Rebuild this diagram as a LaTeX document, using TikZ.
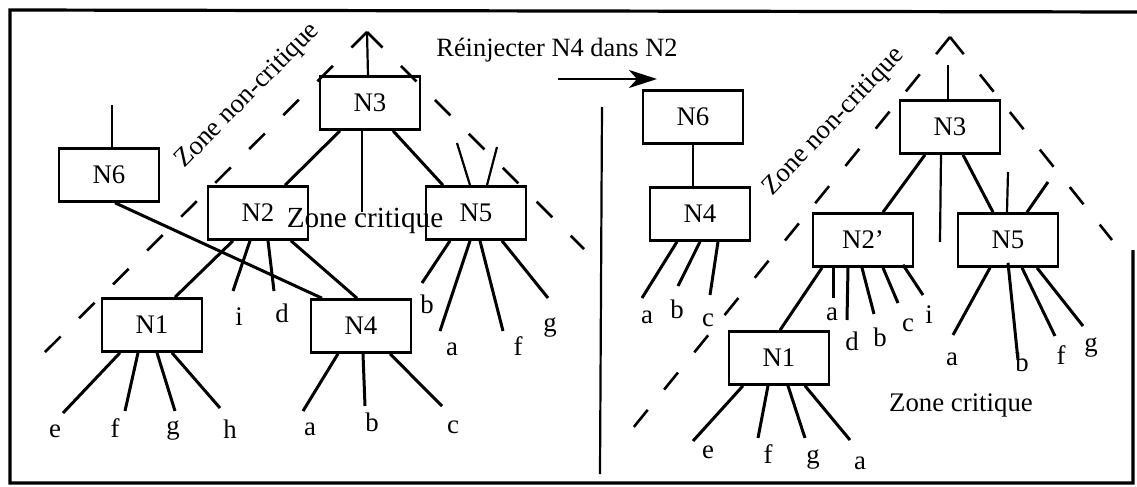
\documentclass[tikz,border=0pt]{standalone}
\usepackage{fontspec}
\setmainfont{Liberation Serif}
\usetikzlibrary{calc,arrows.meta}
\begin{document}
\begin{tikzpicture}[x=0.5pt,y=-0.5pt,
  txt/.style={font=\fontsize{13.4}{15}\selectfont,inner sep=0pt},
  box/.style={txt,draw,line width=1.3pt,minimum width=50pt,minimum height=26.5pt},
  edge/.style={line width=1.5pt},
  thin/.style={line width=1.1pt},
  lbl/.style={txt,anchor=base},
  zone/.style={line width=1.3pt,dash pattern=on 11pt off 13pt},
  border/.style={line width=1.6pt}
]
\useasboundingbox (0,0) rectangle (1137,487);
% frame
\coordinate (c1) at (10,10);
\coordinate (c2) at (1137,12);
\coordinate (c3) at (1133,250);
\coordinate (c4) at (1133,483);
\coordinate (c5) at (10,483);
\draw[border] (c2) -- (c1) -- (c5) -- (c4) -- (c3);

% title and arrow
\node[lbl,font=\fontsize{13.2}{15}\selectfont] (title) at (557,56) {Réinjecter N4 dans N2};
\coordinate (a1) at (558,79);
\coordinate (a2) at (657,79);
\draw[line width=1.4pt,-{Stealth[length=14pt,width=9pt,inset=4pt]}] (a1) -- (a2);
% separator
\coordinate (s1) at (602,107);
\coordinate (s2) at (600,474);
\draw[thin] (s1) -- (s2);

% ================= left tree =================
\node[box] (N3) at (370,103) {N3};
\node[box] (N2) at (258,213) {N2};
\node[box] (N5) at (476,213) {N5};
\node[box] (N6) at (109,175) {N6};
\node[box] (N1) at (152,325) {N1};
\node[box] (N4) at (361,326) {N4};

\coordinate (apexL) at (367,32);
\coordinate (zLl) at (37,360);
\coordinate (zLr) at (584,249);
\draw[zone] (apexL) -- (zLl);
\draw[zone] (apexL) -- (zLr);
\node[txt,rotate=45.4] (zncL) at (248,96) {Zone non-critique};
\node[lbl,font=\fontsize{14.6}{16}\selectfont] (zcL) at (365,227) {Zone critique};

\draw[thin] ($(N3.north)+(-2,0)$) -- (apexL);
\coordinate (v3) at (362,212);
\draw[thin] ($(N3.south)+(-8,0)$) -- (v3);
\draw[edge] ($(N3.south)+(-30,0)$) -- ($(N2.north)+(27,0)$);
\draw[edge] ($(N3.south)+(23,0)$) -- ($(N5.north)+(-33,0)$);

\coordinate (t5a) at (457,143);
\coordinate (t5b) at (497,147);
\draw[thin] ($(N5.north)+(-6,0)$) -- (t5a);
\draw[thin] ($(N5.north)+(11,0)$) -- (t5b);

\coordinate (t6) at (112,105);
\draw[thin] ($(N6.north)+(3,0)$) -- (t6);
\draw[edge] ($(N6.south)+(6,0)$) -- ($(N4.north)+(-39,0)$);

\draw[edge] ($(N2.south)+(-25,0)$) -- ($(N1.north)+(23,0)$);
\draw[edge] ($(N2.south)+(33,0)$) -- ($(N4.north)+(-4,0)$);
\coordinate (e2i) at (233,291);
\coordinate (e2d) at (274,291);
\draw[edge] ($(N2.south)+(-8,0)$) -- (e2i);
\draw[edge] ($(N2.south)+(10,0)$) -- (e2d);
\node[lbl] (l2i) at (239,325) {i};
\node[lbl] (l2d) at (282,322) {d};

% N1 leaves
\coordinate (e1e) at (63,413);
\coordinate (e1f) at (125,411);
\coordinate (e1g) at (175,411);
\coordinate (e1h) at (220,408);
\draw[edge] ($(N1.south)+(-32,0)$) -- (e1e);
\draw[edge] ($(N1.south)+(-14,0)$) -- (e1f);
\draw[edge] ($(N1.south)+(5,0)$) -- (e1g);
\draw[edge] ($(N1.south)+(20,0)$) -- (e1h);
\node[lbl] (l1e) at (55,437) {e};
\node[lbl] (l1f) at (115,437) {f};
\node[lbl] (l1g) at (173,434) {g};
\node[lbl] (l1h) at (230,438) {h};

% N4 leaves
\coordinate (e4a) at (303,411);
\coordinate (e4b) at (365,406);
\coordinate (e4c) at (442,406);
\draw[edge] ($(N4.south)+(-23,0)$) -- (e4a);
\draw[edge] ($(N4.south)+(2,0)$) -- (e4b);
\draw[edge] ($(N4.south)+(29,0)$) -- (e4c);
\node[lbl] (l4a) at (310,435) {a};
\node[lbl] (l4b) at (372,431) {b};
\node[lbl] (l4c) at (453,433) {c};

% N5 leaves
\coordinate (e5b) at (422,283);
\coordinate (e5a) at (440,331);
\coordinate (e5f) at (503,331);
\coordinate (e5g) at (548,298);
\draw[edge] ($(N5.south)+(-26,0)$) -- (e5b);
\draw[edge] ($(N5.south)+(-6,0)$) -- (e5a);
\draw[edge] ($(N5.south)+(4,0)$) -- (e5f);
\draw[edge] ($(N5.south)+(26,0)$) -- (e5g);
\node[lbl] (l5b) at (427,313) {b};
\node[lbl] (l5a) at (452,355) {a};
\node[lbl] (l5f) at (518,355) {f};
\node[lbl] (l5g) at (550,331) {g};

% ================= right tree =================
\node[box] (M6) at (693,117) {N6};
\node[box] (M4) at (700,214) {N4};
\node[box] (M3) at (950,127) {N3};
\node[box] (M2) at (863,240) {N2'};
\node[box] (M5) at (1008,240) {N5};
\node[box] (M1) at (779,358) {N1};

\coordinate (apexR) at (950,37);
\coordinate (zRl) at (633,428);
\coordinate (zRr) at (1112,240);
\draw[zone] (apexR) -- (zRl);
\draw[zone] (apexR) -- (zRr);
\node[txt,rotate=46.5] (zncR) at (834,122) {Zone non-critique};
\node[lbl] (zcR) at (961,411) {Zone critique};

\draw[thin] (M6.south) -- (M6.south |- M4.north);

\coordinate (u3) at (948,65);
\coordinate (w3) at (940,242);
\draw[thin] ($(M3.north)+(-2,0)$) -- (u3);
\draw[thin] ($(M3.south)+(-9,0)$) -- (w3);
\draw[edge] ($(M3.south)+(-25,0)$) -- ($(M2.north)+(20,0)$);
\draw[edge] ($(M3.south)+(13,0)$) -- ($(M5.north)+(-15,0)$);

\coordinate (u5a) at (1008,172);
\coordinate (u5b) at (1048,182);
\draw[thin] ($(M5.north)+(-1,0)$) -- (u5a);
\draw[edge] ($(M5.north)+(19,0)$) -- (u5b);

% N4 leaves (right)
\coordinate (f4a) at (642,298);
\coordinate (f4b) at (678,286);
\coordinate (f4c) at (710,295);
\draw[edge] ($(M4.south)+(-23,0)$) -- (f4a);
\draw[edge] ($(M4.south)+(0,0)$) -- (f4b);
\draw[edge] ($(M4.south)+(18,0)$) -- (f4c);
\node[lbl] (m4a) at (647,323) {a};
\node[lbl] (m4b) at (677,318) {b};
\node[lbl] (m4c) at (708,326) {c};

% N2' leaves
\draw[edge] ($(M2.south)+(-41,0)$) -- ($(M1.north)+(1,0)$);
\coordinate (f2a) at (833,298);
\coordinate (f2d) at (847,320);
\coordinate (f2b) at (874,314);
\coordinate (f2c) at (898,303);
\coordinate (f2i) at (923,295);
\draw[edge] ($(M2.south)+(-30,0)$) -- (f2a);
\draw[edge] ($(M2.south)+(-15,0)$) -- (f2d);
\draw[edge] ($(M2.south)+(-1,0)$) -- (f2b);
\draw[edge] ($(M2.south)+(20,0)$) -- (f2c);
\draw[edge] ($(M2.south)+(40,-3)$) -- (f2i);
\node[lbl] (m2a) at (832,320) {a};
\node[lbl] (m2d) at (852,350) {d};
\node[lbl] (m2b) at (880,346) {b};
\node[lbl] (m2c) at (908,331) {c};
\node[lbl] (m2i) at (929,323) {i};

% N5 leaves (right)
\coordinate (f5a) at (953,335);
\coordinate (f5b) at (1018,360);
\coordinate (f5f) at (1055,336);
\coordinate (f5g) at (1083,326);
\draw[edge] ($(M5.south)+(-18,0)$) -- (f5a);
\draw[edge] ($(M5.south)+(0,-5)$) -- (f5b);
\draw[edge] ($(M5.south)+(14,0)$) -- (f5f);
\draw[edge] ($(M5.south)+(29,0)$) -- (f5g);
\node[lbl] (m5a) at (952,365) {a};
\node[lbl] (m5b) at (1022,371) {b};
\node[lbl] (m5f) at (1061,364) {f};
\node[lbl] (m5g) at (1091,351) {g};

% N1 leaves (right)
\coordinate (f1e) at (693,441);
\coordinate (f1f) at (758,438);
\coordinate (f1g) at (805,438);
\coordinate (f1a) at (850,440);
\draw[edge] ($(M1.south)+(-36,0)$) -- (f1e);
\draw[edge] ($(M1.south)+(-11,0)$) -- (f1f);
\draw[edge] ($(M1.south)+(9,0)$) -- (f1g);
\draw[edge] ($(M1.south)+(26,0)$) -- (f1a);
\node[lbl] (m1e) at (708,458) {e};
\node[lbl] (m1f) at (768,463) {f};
\node[lbl] (m1g) at (813,463) {g};
\node[lbl] (m1a) at (860,469) {a};
\end{tikzpicture}
\end{document}
